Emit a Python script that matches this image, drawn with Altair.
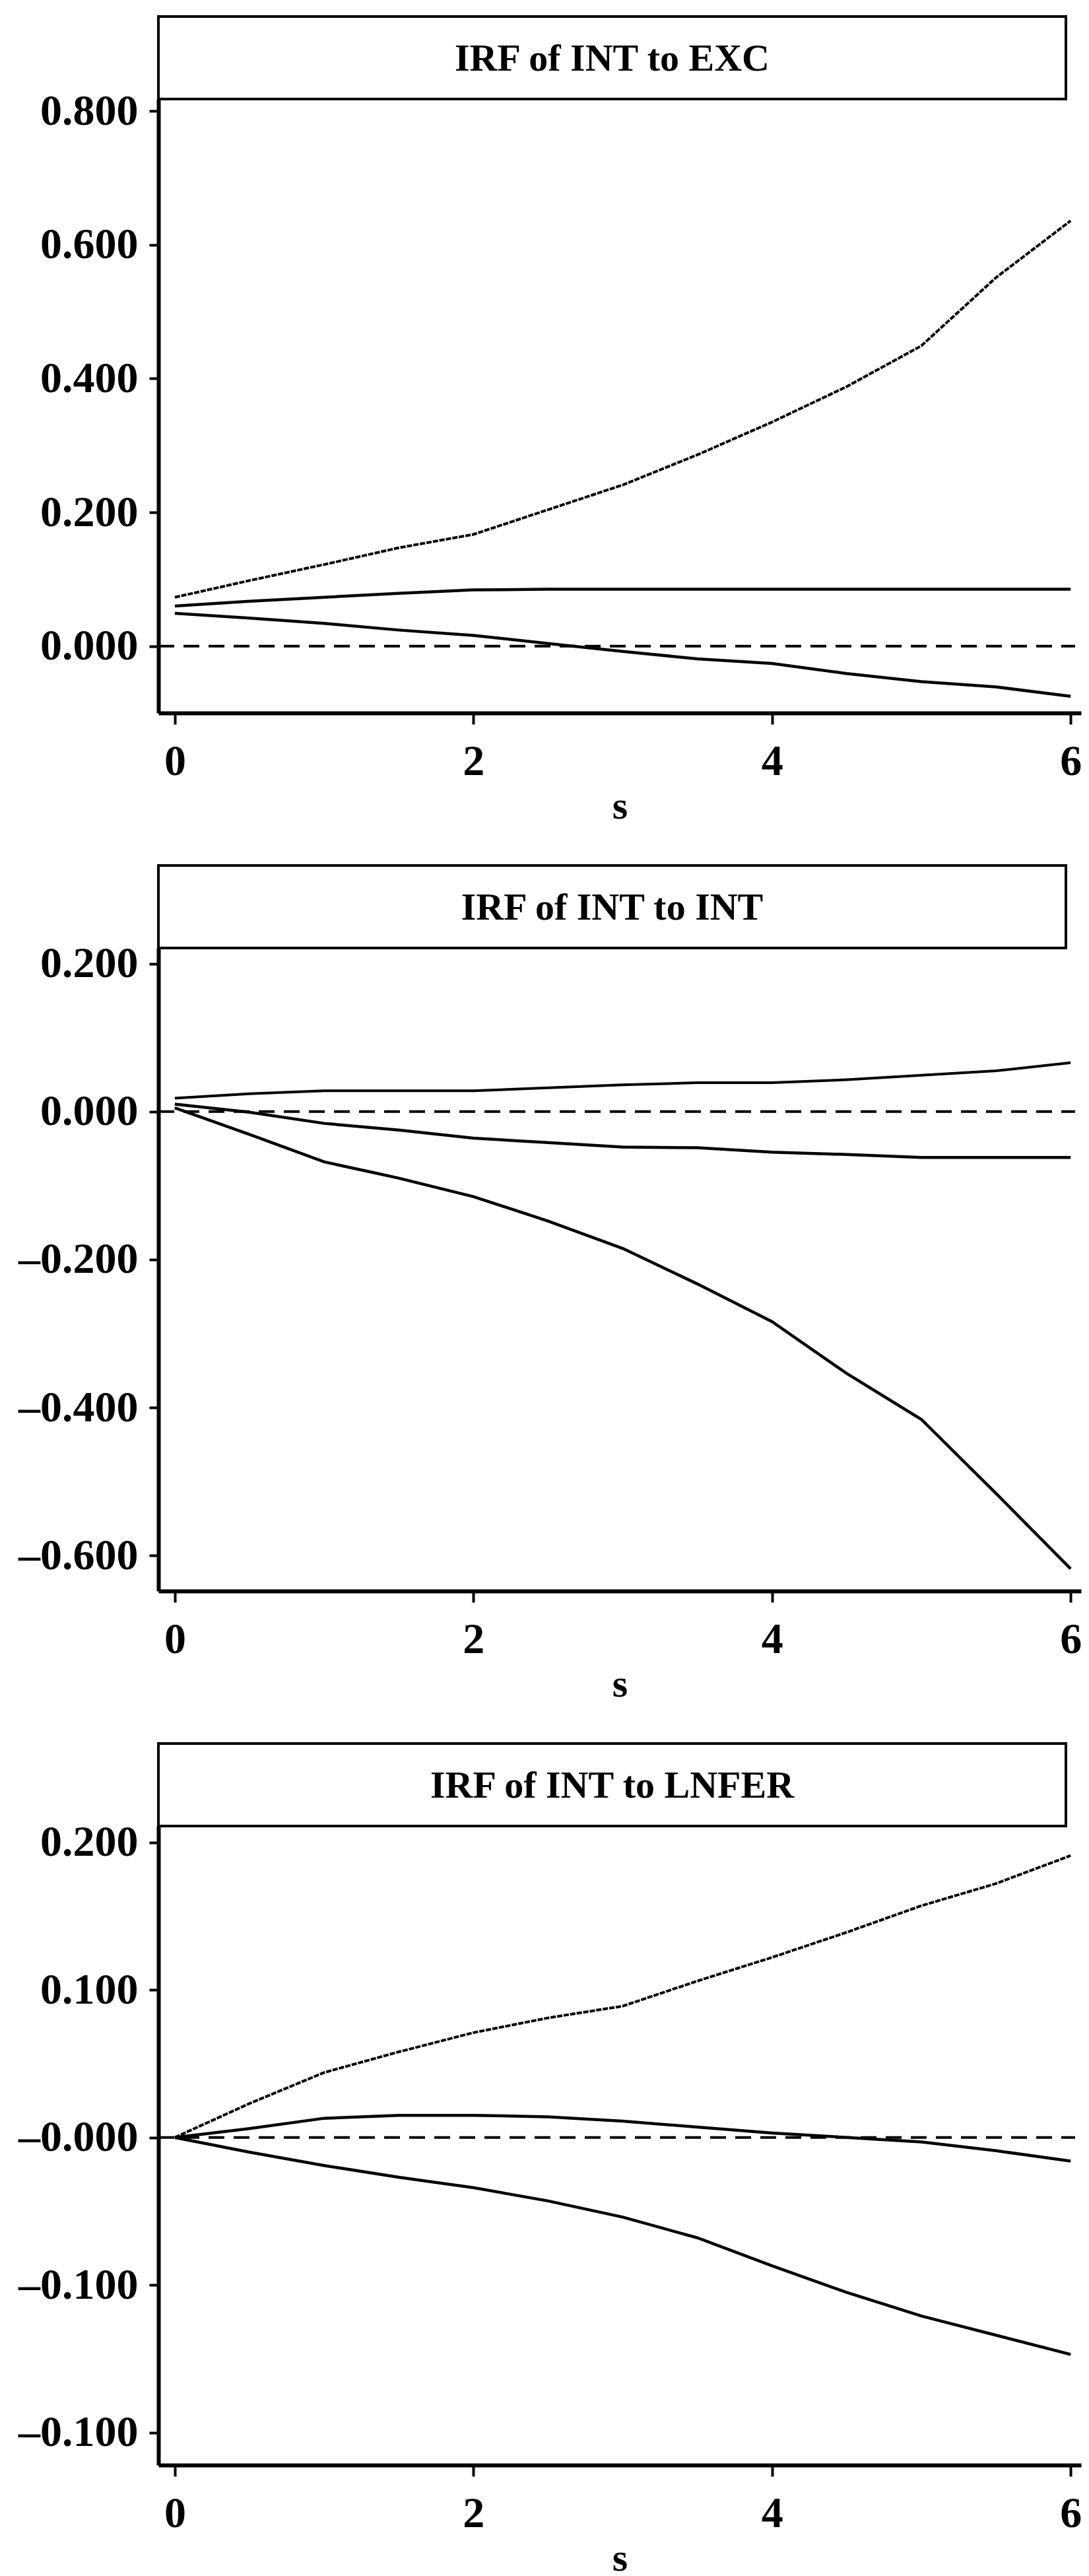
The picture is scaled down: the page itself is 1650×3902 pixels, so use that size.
import altair as alt
import pandas as pd

# ---------------- data ----------------
s = [0.0, 0.5, 1.0, 1.5, 2.0, 2.5, 3.0, 3.5, 4.0, 4.5, 5.0, 5.5, 6.0]

titles = ["IRF of INT to EXC", "IRF of INT to INT", "IRF of INT to LNFER"]

# Panel 1: IRF of INT to EXC
p1_upper = [0.073, 0.098, 0.122, 0.147, 0.167, 0.204, 0.241, 0.286, 0.335, 0.388, 0.449, 0.551, 0.636]
p1_irf   = [0.060, 0.067, 0.073, 0.079, 0.084, 0.085, 0.085, 0.085, 0.085, 0.085, 0.085, 0.085, 0.085]
p1_lower = [0.049, 0.042, 0.034, 0.024, 0.016, 0.004, -0.008, -0.019, -0.026, -0.041, -0.053, -0.061, -0.075]

# Panel 2: IRF of INT to INT
p2_upper = [0.018, 0.024, 0.028, 0.028, 0.028, 0.032, 0.036, 0.039, 0.039, 0.043, 0.049, 0.055, 0.066]
p2_irf   = [0.010, -0.001, -0.016, -0.025, -0.036, -0.042, -0.048, -0.049, -0.055, -0.058, -0.062, -0.062, -0.062]
p2_lower = [0.005, -0.031, -0.068, -0.090, -0.115, -0.148, -0.185, -0.233, -0.284, -0.354, -0.416, -0.516, -0.618]

# Panel 3: IRF of INT to LNFER
p3_upper = [0.000, 0.023, 0.044, 0.058, 0.071, 0.081, 0.089, 0.106, 0.122, 0.139, 0.157, 0.172, 0.191]
p3_irf   = [0.000, 0.006, 0.013, 0.015, 0.015, 0.014, 0.011, 0.007, 0.003, 0.000, -0.003, -0.009, -0.016]
p3_lower = [0.000, -0.010, -0.019, -0.027, -0.034, -0.043, -0.054, -0.068, -0.087, -0.105, -0.121, -0.134, -0.147]

# axis ticks and their printed labels
x_ticks = [0, 2, 4, 6]
p1_yticks = [0.0, 0.2, 0.4, 0.6, 0.8]
p1_ylabels = ["0.000", "0.200", "0.400", "0.600", "0.800"]
p2_yticks = [-0.6, -0.4, -0.2, 0.0, 0.2]
p2_ylabels = ["\u20130.600", "\u20130.400", "\u20130.200", "0.000", "0.200"]
p3_yticks = [-0.2, -0.1, 0.0, 0.1, 0.2]
p3_ylabels = ["\u20130.100", "\u20130.100", "\u20130.000", "0.100", "0.200"]

x_domain = [-0.11, 6.07]
p1_ydomain = [-0.100, 0.818]
p2_ydomain = [-0.648, 0.221]
p3_ydomain = [-0.222, 0.211]
zero_span = [-0.11, 6.03]

# ---------------- styling ----------------
FONT = "Liberation Serif"
W = 1398
BOX_W = 1375
BOX_H = 125
LABEL_FS = 66
TITLE_FS = 58


def label_expr(ticks, labels):
    arr_l = "[" + ",".join("'" + l + "'" for l in labels) + "]"
    arr_t = "[" + ",".join(str(int(round(v * 1000))) for v in ticks) + "]"
    return arr_l + "[indexof(" + arr_t + ", round(datum.value*1000))]"


def panel(title, upper, irf, lower, ydomain, yticks, ylabels, height, upper_dash):
    df = pd.DataFrame({"s": s, "upper": upper, "irf": irf, "lower": lower})

    xs = alt.Scale(domain=x_domain, nice=False, zero=False)
    ys = alt.Scale(domain=ydomain, nice=False, zero=False)

    x_axis = alt.Axis(values=x_ticks, format="d", title="s", grid=False,
                      domainColor="black", domainWidth=6, tickColor="black",
                      tickWidth=4, tickSize=17, labelPadding=24,
                      labelFont=FONT, labelFontSize=LABEL_FS, labelFontWeight="bold",
                      labelColor="black", labelFlush=False, labelLimit=0,
                      titleFont=FONT, titleFontSize=60, titleFontWeight="bold",
                      titleColor="black", titlePadding=6)
    y_axis = alt.Axis(values=yticks, labelExpr=label_expr(yticks, ylabels), title=None,
                      grid=False, domainColor="black", domainWidth=6,
                      tickColor="black", tickWidth=4, tickSize=14, labelPadding=17,
                      labelFont=FONT, labelFontSize=LABEL_FS, labelFontWeight="bold",
                      labelColor="black", labelFlush=False, labelLimit=0)

    base = alt.Chart(df)
    layers = []
    zero = alt.Chart(pd.DataFrame({"x0": [zero_span[0]], "x1": [zero_span[1]], "y": [0.0]})).mark_rule(
        color="black", strokeWidth=4, strokeDash=[24, 14]
    ).encode(x=alt.X("x0:Q", scale=xs, axis=x_axis), x2="x1:Q",
             y=alt.Y("y:Q", scale=ys, axis=y_axis))
    layers.append(zero)
    up_kw = dict(color="black", strokeWidth=4)
    if upper_dash:
        up_kw["strokeDash"] = [8, 2]
    layers.append(base.mark_line(**up_kw).encode(
        x=alt.X("s:Q", scale=xs), y=alt.Y("upper:Q", scale=ys)))
    layers.append(base.mark_line(color="black", strokeWidth=4.5).encode(
        x=alt.X("s:Q", scale=xs), y=alt.Y("irf:Q", scale=ys)))
    layers.append(base.mark_line(color="black", strokeWidth=4.5).encode(
        x=alt.X("s:Q", scale=xs), y=alt.Y("lower:Q", scale=ys)))
    plot = alt.layer(*layers).properties(width=W, height=height)

    tdf = pd.DataFrame({"title": [title]})
    box = alt.Chart(tdf).mark_rect(fill="white", stroke="black", strokeWidth=4).encode(
        x=alt.value(0), x2=alt.value(BOX_W), y=alt.value(0), y2=alt.value(BOX_H))
    txt = alt.Chart(tdf).mark_text(font=FONT, fontSize=TITLE_FS, fontWeight="bold",
                                   color="black", baseline="middle", align="center").encode(
        text="title:N", x=alt.value(BOX_W / 2), y=alt.value(BOX_H / 2 + 2))
    box_chart = alt.layer(box, txt).properties(width=W, height=BOX_H)

    return alt.vconcat(box_chart, plot, spacing=0, bounds="flush")


p1 = panel(titles[0], p1_upper, p1_irf, p1_lower, p1_ydomain, p1_yticks, p1_ylabels, 930, True)
p2 = panel(titles[1], p2_upper, p2_irf, p2_lower, p2_ydomain, p2_yticks, p2_ylabels, 974, False)
p3 = panel(titles[2], p3_upper, p3_irf, p3_lower, p3_ydomain, p3_yticks, p3_ylabels, 968, True)

chart = alt.vconcat(p1, p2, p3, spacing=58).properties(
    padding={"left": 19, "top": 15, "right": 0, "bottom": 0},
    background="white",
).configure_view(strokeWidth=0)

chart.save("out.html", embed_options={"renderer": "svg", "actions": False})
